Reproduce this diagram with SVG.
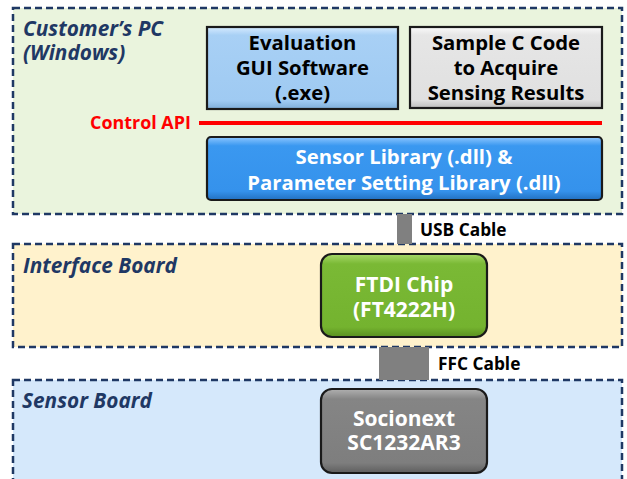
<svg xmlns="http://www.w3.org/2000/svg" width="627" height="479" viewBox="0 0 627 479">
<defs>
<style>
.zone{stroke:#1F3864;stroke-width:2.5;stroke-dasharray:7 4;}
.ztitle{font-family:"Open Sans","Noto Sans",sans-serif;font-weight:bold;font-style:italic;font-size:20.8px;fill:#1F3864;}
.box{stroke:#1a1a1a;stroke-width:2.2;}
.bt{font-family:"Open Sans","Noto Sans",sans-serif;font-weight:bold;font-size:20.3px;text-anchor:middle;}
.bt2{font-family:"Open Sans","Noto Sans",sans-serif;font-weight:bold;font-size:21px;text-anchor:middle;}
.blk{fill:#000;}
.wht{fill:#fff;}
.lbl{font-family:"Open Sans","Noto Sans",sans-serif;font-weight:bold;font-size:17.3px;fill:#000;}
.cable{fill:#808080;}
</style>
<linearGradient id="gBlueL" x1="0" y1="0" x2="0" y2="1">
<stop offset="0" stop-color="#D6EBFF"/><stop offset="0.1" stop-color="#A8D0F5"/><stop offset="0.9" stop-color="#9FCAF2"/><stop offset="1" stop-color="#7FAED8"/>
</linearGradient>
<linearGradient id="gGray" x1="0" y1="0" x2="0" y2="1">
<stop offset="0" stop-color="#FAFAFA"/><stop offset="0.1" stop-color="#E6E6E6"/><stop offset="0.9" stop-color="#E0E0E0"/><stop offset="1" stop-color="#BDBDBD"/>
</linearGradient>
<linearGradient id="gBlue" x1="0" y1="0" x2="0" y2="1">
<stop offset="0" stop-color="#8CC6FF"/><stop offset="0.14" stop-color="#3A98F0"/><stop offset="0.86" stop-color="#3592EC"/><stop offset="1" stop-color="#2270C0"/>
</linearGradient>
<linearGradient id="gGreen" x1="0" y1="0" x2="0" y2="1">
<stop offset="0" stop-color="#A8DA6A"/><stop offset="0.12" stop-color="#7AB935"/><stop offset="0.88" stop-color="#74B32F"/><stop offset="1" stop-color="#5A9020"/>
</linearGradient>
<linearGradient id="gDark" x1="0" y1="0" x2="0" y2="1">
<stop offset="0" stop-color="#B0B0B0"/><stop offset="0.12" stop-color="#858585"/><stop offset="0.88" stop-color="#7E7E7E"/><stop offset="1" stop-color="#5E5E5E"/>
</linearGradient>
</defs>
<rect width="627" height="479" fill="#fff"/>

<g id="customers-pc">
<rect class="zone" x="13" y="8" width="609" height="206" fill="#EAF4DD"/>
<text class="ztitle" x="23" y="36">Customer’s PC</text>
<text class="ztitle" x="23" y="60">(Windows)</text>
</g>

<g id="interface-board">
<rect class="zone" x="13" y="244" width="609" height="103" fill="#FFF2CC"/>
<text class="ztitle" x="23" y="273">Interface Board</text>
</g>

<g id="sensor-board">
<rect class="zone" x="13" y="380" width="609" height="120" fill="#D5E8FB"/>
<text class="ztitle" x="22" y="408">Sensor Board</text>
</g>

<g id="connectors">
<rect class="cable" x="397" y="214" width="15" height="30"/>
<text class="lbl" x="420" y="236">USB Cable</text>
<rect class="cable" x="379" y="347" width="50" height="33"/>
<text class="lbl" x="438" y="370">FFC Cable</text>
<line x1="199" y1="123" x2="602" y2="123" stroke="#FF0000" stroke-width="4"/>
<text x="90" y="129" style="font-family:'Open Sans','Noto Sans',sans-serif;font-weight:bold;font-size:17.9px;fill:#FF0000;">Control API</text>
</g>

<g id="evaluation-gui">
<rect class="box" x="207" y="27" width="191" height="82" fill="url(#gBlueL)"/>
<text class="bt blk" x="302.5" y="50">Evaluation</text>
<text class="bt blk" x="302.5" y="75">GUI Software</text>
<text class="bt blk" x="302.5" y="100">(.exe)</text>
</g>

<g id="sample-c-code">
<rect class="box" x="410" y="27" width="192" height="81" fill="url(#gGray)"/>
<text class="bt blk" x="506" y="50">Sample C Code</text>
<text class="bt blk" x="506" y="75">to Acquire</text>
<text class="bt blk" x="506" y="100">Sensing Results</text>
</g>

<g id="sensor-library">
<rect class="box" x="207" y="137" width="395" height="63" rx="4" fill="url(#gBlue)"/>
<text class="bt wht" x="404" y="164">Sensor Library (.dll) &amp;</text>
<text class="bt wht" x="404" y="190">Parameter Setting Library (.dll)</text>
</g>

<g id="ftdi-chip">
<rect class="box" x="321" y="254" width="166" height="83" rx="11" fill="url(#gGreen)"/>
<text class="bt2 wht" x="404" y="292">FTDI Chip</text>
<text class="bt2 wht" x="404" y="317">(FT4222H)</text>
</g>

<g id="socionext">
<rect class="box" x="321" y="389" width="166" height="84" rx="11" fill="url(#gDark)"/>
<text class="bt2 wht" x="404" y="426">Socionext</text>
<text class="bt2 wht" x="404" y="450">SC1232AR3</text>
</g>
</svg>
